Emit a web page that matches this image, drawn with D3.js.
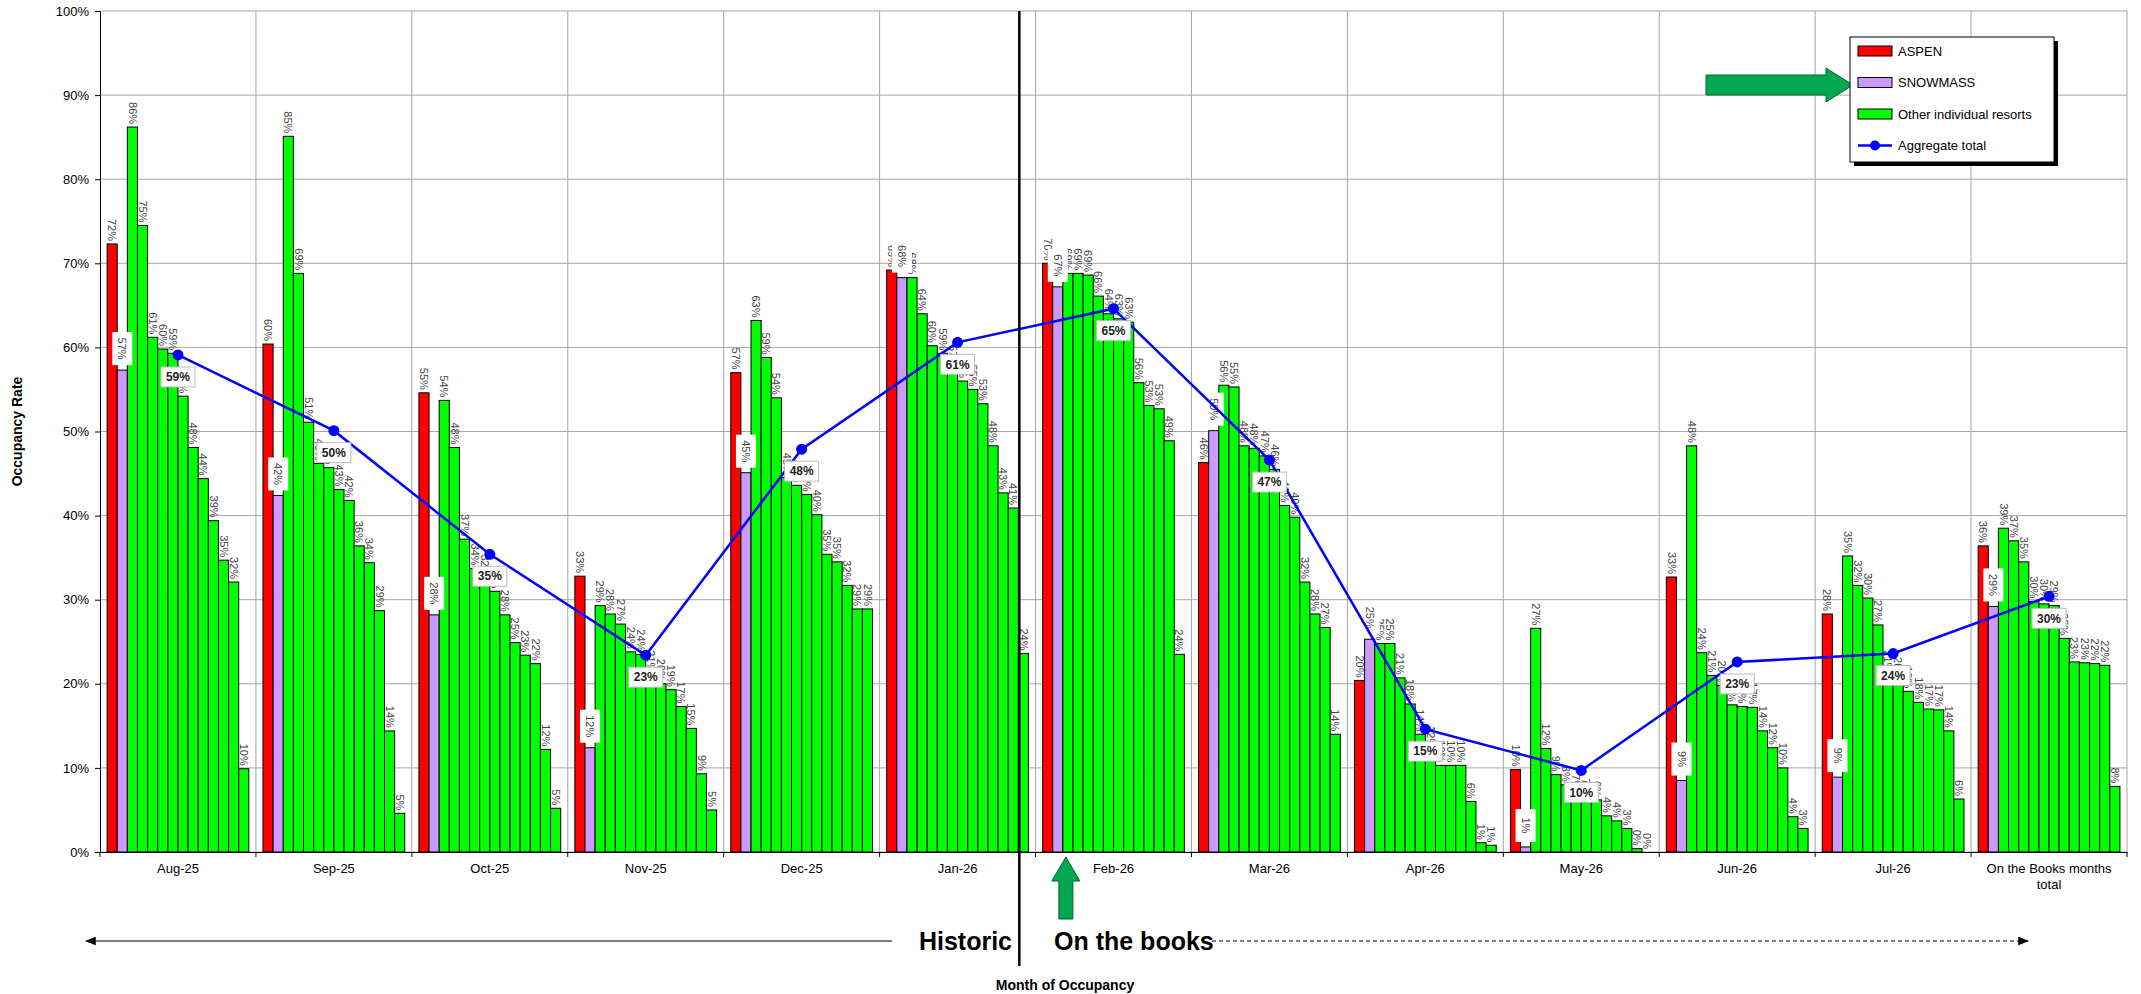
<!DOCTYPE html>
<html lang="en">
<head>
<meta charset="utf-8">
<title>Occupancy Rate by Month</title>
<script src="https://cdn.jsdelivr.net/npm/d3@7"></script>
<style>
  body { margin: 0; background: #fff; }
  text { font-family: "Liberation Sans", Arial, sans-serif; }
</style>
</head>
<body>
<script>
// months of occupancy
var months = ["Aug-25", "Sep-25", "Oct-25", "Nov-25", "Dec-25", "Jan-26", "Feb-26",
              "Mar-26", "Apr-26", "May-26", "Jun-26", "Jul-26", "On the Books months total"];

// occupancy rates (%)
var aspen    = [72.3, 60.4, 54.6, 32.8, 57.0, 69.2, 70.0, 46.3, 20.4, 9.8, 32.7, 28.3, 36.4];
var snowmass = [57.3, 42.4, 28.2, 12.4, 45.1, 68.3, 67.2, 50.1, 25.3, 0.6, 8.5, 8.9, 29.2];
var otherResorts = [
  [86.2, 74.5, 61.2, 59.8, 59.3, 54.2, 48.1, 44.4, 39.4, 34.7, 32.1, 9.9],
  [85.1, 68.8, 51.1, 46.2, 45.7, 43.1, 41.8, 36.4, 34.4, 28.7, 14.4, 4.6],
  [53.7, 48.1, 37.2, 33.7, 32.4, 31.0, 28.2, 24.9, 23.4, 22.4, 12.2, 5.2],
  [29.3, 28.3, 27.1, 23.8, 23.5, 21.0, 20.0, 19.3, 17.3, 14.7, 9.3, 5.0],
  [63.2, 58.8, 54.0, 44.5, 43.6, 42.5, 40.1, 35.4, 34.5, 31.7, 28.9, 28.9],
  [68.3, 64.0, 60.2, 59.3, 57.3, 56.0, 55.0, 53.3, 48.3, 42.7, 40.9, 23.6],
  [68.8, 68.8, 68.6, 66.1, 64.0, 63.4, 63.0, 55.8, 53.1, 52.7, 48.9, 23.5],
  [55.5, 55.3, 48.3, 48.0, 47.1, 45.5, 41.2, 39.8, 32.1, 28.3, 26.7, 14.0],
  [24.8, 24.8, 20.7, 17.6, 14.0, 12.0, 10.3, 10.3, 10.3, 6.0, 1.1, 0.8],
  [26.6, 12.3, 9.2, 8.0, 7.0, 6.5, 6.2, 4.3, 3.7, 2.8, 0.4, 0.0],
  [48.3, 23.7, 21.0, 19.8, 17.5, 17.3, 17.2, 14.4, 12.4, 10.0, 4.2, 2.8],
  [35.2, 31.7, 30.2, 27.0, 21.0, 20.2, 19.1, 17.8, 17.0, 16.9, 14.4, 6.3],
  [38.5, 37.0, 34.5, 29.8, 29.5, 29.3, 25.4, 22.6, 22.5, 22.4, 22.2, 7.8]
];
var aggregate = [59.1, 50.1, 35.4, 23.4, 47.9, 60.6, 64.6, 46.6, 14.6, 9.7, 22.6, 23.6, 30.4];

var yTicks = d3.range(0, 101, 10);
var seriesNames = ["ASPEN", "SNOWMASS", "Other individual resorts", "Aggregate total"];
var seriesColors = ["#ff0000", "#cc99ff", "#00ff00", "#0000ff"];

//Width and height
var w = 2141;
var h = 994;
var plotLeft = 100, plotRight = 2127, plotTop = 11, plotBottom = 852;

var svg = d3.select("body").append("svg")
  .attr("width", w)
  .attr("height", h);

//scales
var xScale = d3.scaleBand()
  .domain(months)
  .range([plotLeft, plotRight])
  .paddingInner(0)
  .paddingOuter(0);

var barScale = d3.scaleBand()
  .domain(d3.range(14))
  .range([0, xScale.bandwidth()])
  .paddingInner(0)
  .paddingOuter(0.7);

var yScale = d3.scaleLinear()
  .domain([0, 100])
  .range([plotBottom, plotTop]);

var pct = function(v) { return Math.round(v) + "%"; };
var mid = function(m) { return xScale(m) + xScale.bandwidth() / 2; };

//gridlines
svg.append("g")
  .selectAll("line")
  .data(yTicks)
  .enter()
  .append("line")
  .attr("x1", plotLeft)
  .attr("x2", plotRight)
  .attr("y1", function(d) { return yScale(d); })
  .attr("y2", function(d) { return yScale(d); })
  .attr("stroke", "#a6a6a6")
  .attr("stroke-width", 1);

var bounds = months.map(function(m) { return xScale(m); }).concat([plotRight]);
svg.append("g")
  .selectAll("line")
  .data(bounds.slice(1))
  .enter()
  .append("line")
  .attr("x1", function(d) { return d; })
  .attr("x2", function(d) { return d; })
  .attr("y1", plotTop)
  .attr("y2", plotBottom)
  .attr("stroke", "#a6a6a6")
  .attr("stroke-width", 1);

//bars
var groups = svg.append("g")
  .selectAll("g")
  .data(months)
  .enter()
  .append("g")
  .attr("transform", function(d) { return "translate(" + xScale(d) + ",0)"; });

var barData = function(m, i) {
  var arr = [{ k: 0, v: aspen[i], fill: seriesColors[0] },
             { k: 1, v: snowmass[i], fill: seriesColors[1] }];
  otherResorts[i].forEach(function(v, j) {
    arr.push({ k: j + 2, v: v, fill: seriesColors[2] });
  });
  return arr;
};

groups.selectAll("rect")
  .data(barData)
  .enter()
  .append("rect")
  .attr("x", function(d) { return barScale(d.k); })
  .attr("y", function(d) { return yScale(d.v); })
  .attr("width", barScale.bandwidth())
  .attr("height", function(d) { return plotBottom - yScale(d.v); })
  .attr("fill", function(d) { return d.fill; })
  .attr("stroke", "#000")
  .attr("stroke-width", 1);

//bar labels (aspen + other resorts), rotated
groups.selectAll("text.bl")
  .data(function(m, i) { return barData(m, i).filter(function(d) { return d.k !== 1; }); })
  .enter()
  .append("text")
  .attr("class", "bl")
  .attr("transform", function(d) {
    return "translate(" + (barScale(d.k) + barScale.bandwidth() / 2) + "," + (yScale(d.v) - 3) + ") rotate(90)";
  })
  .attr("text-anchor", "end")
  .attr("dy", "0.35em")
  .attr("font-size", "11px")
  .attr("fill", "#444")
  .text(function(d) { return pct(d.v); });

//snowmass labels in white boxes
var snow = groups.append("g")
  .attr("transform", function(m, i) {
    return "translate(" + (barScale(1) + barScale.bandwidth() / 2) + "," + (yScale(snowmass[i]) - 5) + ")";
  });
snow.append("rect")
  .attr("x", -10)
  .attr("y", -33)
  .attr("width", 20)
  .attr("height", 33)
  .attr("fill", "#fff");
snow.append("text")
  .attr("transform", "translate(0,-16.5) rotate(90)")
  .attr("text-anchor", "middle")
  .attr("dy", "0.35em")
  .attr("font-size", "11px")
  .attr("fill", "#444")
  .text(function(m, i) { return pct(snowmass[i]); });

//axes
var yAxis = d3.axisLeft(yScale)
  .tickValues(yTicks)
  .tickFormat(function(d) { return d + "%"; })
  .tickSize(5)
  .tickPadding(6);
svg.append("g")
  .attr("transform", "translate(" + plotLeft + ",0)")
  .call(yAxis)
  .call(function(g) {
    g.selectAll("text").attr("font-size", "13px").attr("fill", "#000").attr("font-family", "Liberation Sans, Arial, sans-serif");
    g.select(".domain").attr("stroke", "#000");
  });

var xAxis = d3.axisBottom(xScale)
  .tickSize(0)
  .tickPadding(12);
var xg = svg.append("g")
  .attr("transform", "translate(0," + plotBottom + ")")
  .call(xAxis);
xg.select(".domain").attr("stroke", "#000");
xg.selectAll("text")
  .attr("font-size", "13px")
  .attr("fill", "#000")
  .attr("font-family", "Liberation Sans, Arial, sans-serif")
  .each(function(d) {
    if (d.length > 10) {
      var t = d3.select(this).text(null);
      t.append("tspan").attr("x", 0).text("On the Books months");
      t.append("tspan").attr("x", 0).attr("dy", "1.2em").text("total");
    }
  });
xg.selectAll("line.b")
  .data(bounds)
  .enter()
  .append("line")
  .attr("class", "b")
  .attr("x1", function(d) { return d; })
  .attr("x2", function(d) { return d; })
  .attr("y1", 0)
  .attr("y2", 5)
  .attr("stroke", "#000");

//aggregate line
var line = d3.line()
  .x(function(d, i) { return mid(months[i]); })
  .y(function(d) { return yScale(d); });
svg.append("path")
  .datum(aggregate)
  .attr("d", line)
  .attr("fill", "none")
  .attr("stroke", seriesColors[3])
  .attr("stroke-width", 2.5);

var agg = svg.append("g")
  .selectAll("g")
  .data(aggregate)
  .enter()
  .append("g")
  .attr("transform", function(d, i) { return "translate(" + mid(months[i]) + "," + yScale(d) + ")"; });
agg.append("circle")
  .attr("r", 5.5)
  .attr("fill", seriesColors[3]);
agg.append("rect")
  .attr("x", -17)
  .attr("y", 12)
  .attr("width", 34)
  .attr("height", 20)
  .attr("fill", "#fff")
  .attr("stroke", "#bbb");
agg.append("text")
  .attr("y", 22)
  .attr("dy", "0.35em")
  .attr("text-anchor", "middle")
  .attr("font-size", "12px")
  .attr("font-weight", "bold")
  .attr("fill", "#222")
  .text(function(d) { return pct(d); });

//axis titles
svg.append("text")
  .attr("transform", "translate(22," + ((plotTop + plotBottom) / 2) + ") rotate(-90)")
  .attr("text-anchor", "middle")
  .attr("font-size", "14px")
  .attr("font-weight", "bold")
  .text("Occupancy Rate");

svg.append("text")
  .attr("x", 1065)
  .attr("y", 990)
  .attr("text-anchor", "middle")
  .attr("font-size", "14px")
  .attr("font-weight", "bold")
  .text("Month of Occupancy");

//historic / on the books divider
var divX = xScale("Jan-26") + barScale(13) + 1;
svg.append("line")
  .attr("x1", divX).attr("x2", divX)
  .attr("y1", plotTop).attr("y2", 966)
  .attr("stroke", "#000")
  .attr("stroke-width", 2.5);

var defs = svg.append("defs");
defs.append("marker")
  .attr("id", "ah")
  .attr("viewBox", "0 0 10 10")
  .attr("refX", 9).attr("refY", 5)
  .attr("markerWidth", 9).attr("markerHeight", 9)
  .attr("orient", "auto-start-reverse")
  .append("path")
  .attr("d", "M0,1 L10,5 L0,9 Z")
  .attr("fill", "#000");

svg.append("line")
  .attr("x1", 892).attr("x2", 86)
  .attr("y1", 941).attr("y2", 941)
  .attr("stroke", "#000")
  .attr("stroke-width", 1.2)
  .attr("marker-end", "url(#ah)");
svg.append("line")
  .attr("x1", 1212).attr("x2", 2028)
  .attr("y1", 941).attr("y2", 941)
  .attr("stroke", "#000")
  .attr("stroke-width", 1.2)
  .attr("stroke-dasharray", "4,3")
  .attr("marker-end", "url(#ah)");

svg.append("text")
  .attr("x", 1012).attr("y", 950)
  .attr("text-anchor", "end")
  .attr("font-size", "25px")
  .attr("font-weight", "bold")
  .text("Historic");
svg.append("text")
  .attr("x", 1054).attr("y", 950)
  .attr("font-size", "25px")
  .attr("font-weight", "bold")
  .text("On the books");

//green arrows
var arrowX = xScale("Feb-26") + barScale(2) + 3;
svg.append("path")
  .attr("d", "M" + arrowX + "," + (plotBottom + 5) +
             " l14,24 l-7,0 l0,38 l-14,0 l0,-38 l-7,0 Z")
  .attr("fill", "#00a650")
  .attr("stroke", "#00662f")
  .attr("stroke-width", 1);
svg.append("path")
  .attr("d", "M1706,75 L1826,75 L1826,68 L1853,85 L1826,102 L1826,95 L1706,95 Z")
  .attr("fill", "#00a650")
  .attr("stroke", "#00662f")
  .attr("stroke-width", 1);

//legend
var lg = svg.append("g").attr("transform", "translate(1850,37)");
lg.append("rect")
  .attr("x", 4).attr("y", 4)
  .attr("width", 204).attr("height", 125)
  .attr("fill", "#000");
lg.append("rect")
  .attr("width", 204).attr("height", 125)
  .attr("fill", "#fff")
  .attr("stroke", "#000");
var items = lg.selectAll("g.it")
  .data(seriesNames)
  .enter()
  .append("g")
  .attr("class", "it")
  .attr("transform", function(d, i) { return "translate(8," + (14 + i * 31.5) + ")"; });
items.filter(function(d, i) { return i < 3; })
  .append("rect")
  .attr("x", 0).attr("y", -5)
  .attr("width", 34).attr("height", 10)
  .attr("fill", function(d, i) { return seriesColors[i]; })
  .attr("stroke", "#000");
items.filter(function(d, i) { return i === 3; })
  .call(function(g) {
    g.append("line").attr("x1", 0).attr("x2", 34).attr("stroke", seriesColors[3]).attr("stroke-width", 2.5);
    g.append("circle").attr("cx", 17).attr("r", 5).attr("fill", seriesColors[3]);
  });
items.append("text")
  .attr("x", 40)
  .attr("dy", "0.35em")
  .attr("font-size", "13px")
  .text(function(d) { return d; });
</script>
</body>
</html>
